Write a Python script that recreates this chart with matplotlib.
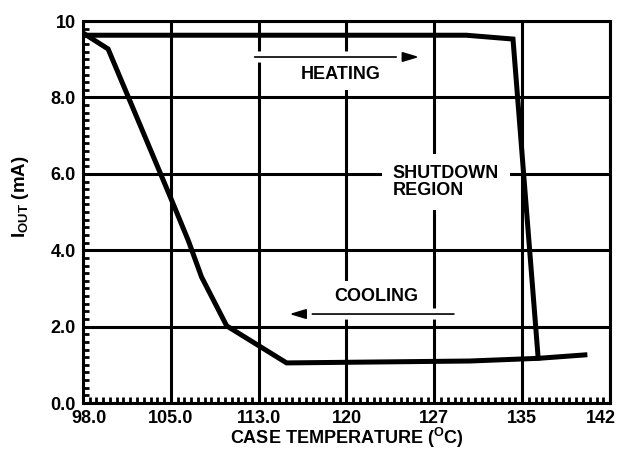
import numpy as np
import matplotlib.pyplot as plt
from matplotlib.ticker import FixedLocator, AutoMinorLocator, MultipleLocator
from matplotlib.transforms import ScaledTranslation
import matplotlib.patheffects as pe

plt.rcParams['font.family'] = ['Liberation Sans', 'DejaVu Sans']
plt.rcParams['font.weight'] = 'bold'
plt.rcParams['axes.labelweight'] = 'bold'
plt.rcParams['mathtext.fontset'] = 'custom'
plt.rcParams['mathtext.rm'] = 'Liberation Sans:bold'

# heating curve (case temperature, output current)
heat_t = [98.0, 130.0, 133.9, 136.0]
heat_i = [9.63, 9.63, 9.53, 1.18]

# cooling curve
cool_t = [98.0, 100.1, 105.3, 106.8, 107.9, 110.0, 115.0, 130.3, 136.0, 139.9]
cool_i = [9.69, 9.27, 5.39, 4.25, 3.30, 2.02, 1.05, 1.10, 1.17, 1.26]

x_ticks = list(np.linspace(98, 142, 7))
x_labels = ['98.0', '105.0', '113.0', '120', '127', '135', '142']
y_ticks = [0, 2, 4, 6, 8, 10]
y_labels = ['0.0', '2.0', '4.0', '6.0', '8.0', '10']

fig = plt.figure(figsize=(6.19, 4.49), dpi=100)
ax = fig.add_axes([0.134, 0.1024, 0.8515, 0.8506])

ax.set_xlim(98, 142)
ax.set_ylim(0, 10)
ax.xaxis.set_major_locator(FixedLocator(x_ticks))
ax.set_xticklabels(x_labels)
ax.set_yticks(y_ticks)
ax.set_yticklabels(y_labels)
ax.xaxis.set_minor_locator(AutoMinorLocator(13))
ax.yaxis.set_minor_locator(MultipleLocator(0.2))

ax.grid(True, which='major', color='black', linewidth=2.2)
ax.tick_params(which='major', length=0, labelsize=13, pad=5)
ax.tick_params(which='minor', direction='in', length=4, width=2,
               bottom=True, left=True, top=False, right=False)
for s in ax.spines.values():
    s.set_linewidth(2.2)

# end labels sit inside the figure like the original
xl = ax.get_xticklabels()
xl[0].set_transform(xl[0].get_transform() + ScaledTranslation(0.06, 0, fig.dpi_scale_trans))
xl[-1].set_transform(xl[-1].get_transform() + ScaledTranslation(-0.09, 0, fig.dpi_scale_trans))

ax.plot(heat_t, heat_i, color='black', linewidth=3.6, solid_joinstyle='miter', zorder=5)
ax.plot(cool_t, cool_i, color='black', linewidth=3.6, solid_joinstyle='miter', zorder=5)

halo = [pe.withStroke(linewidth=8, foreground='white')]
ax.annotate('', xy=(126.3, 9.06), xytext=(112.1, 9.06),
            arrowprops=dict(arrowstyle='-|>,head_length=1.0,head_width=0.3',
                            color='black', lw=1.2, path_effects=halo), zorder=4)
ax.annotate('', xy=(115.0, 2.33), xytext=(129.2, 2.33),
            arrowprops=dict(arrowstyle='-|>,head_length=1.0,head_width=0.3',
                            color='black', lw=1.2, path_effects=halo), zorder=4)

box = dict(facecolor='white', edgecolor='none', pad=5)
ax.text(119.5, 8.61, 'HEATING', fontsize=13, ha='center', va='center', bbox=box, zorder=4)
ax.text(122.5, 2.80, 'COOLING', fontsize=13, ha='center', va='center', bbox=box, zorder=4)
ax.text(128.3, 5.78, 'SHUTDOWN\nREGION', fontsize=13, ha='center', va='center',
        multialignment='left', linespacing=1.0,
        bbox=dict(facecolor='white', edgecolor='none', pad=8), zorder=4)

ax.set_xlabel(r'CASE TEMPERATURE ($^{\rm O}$C)', fontsize=13, labelpad=-1)
ax.set_ylabel(r'I$_{\rm OUT}$ (mA)', fontsize=13.5)
ax.yaxis.set_label_coords(-0.098, 0.54)

fig.savefig('out.png', dpi=100)
